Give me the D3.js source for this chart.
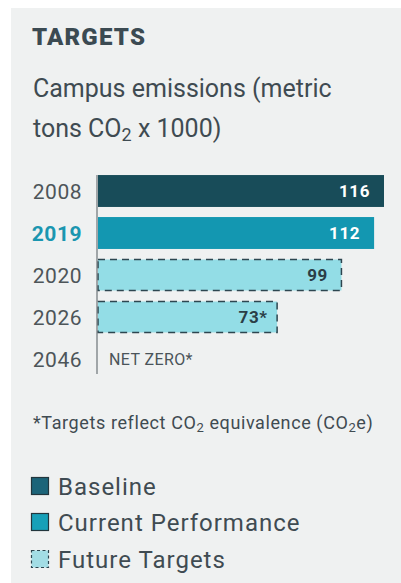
<!DOCTYPE html>
<html>
<head>
<meta charset="utf-8">
<script src="https://cdn.jsdelivr.net/npm/d3@7"></script>
<style>
  html, body { margin: 0; padding: 0; background: #ffffff; }
  svg { display: block; font-family: Roboto, "Noto Sans", sans-serif; }
</style>
</head>
<body>
<svg id="chart" width="401" height="583"></svg>
<script>
// Campus emissions by year (metric tons CO2 x 1000)
const years = ["2008", "2019", "2020", "2026", "2046"];
const values = [116, 112, 99, 73, 0];
const valueLabels = ["116", "112", "99", "73*", "NET ZERO*"];
const kinds = ["baseline", "current", "future", "future", "none"];

const legendLabels = ["Baseline", "Current Performance", "Future Targets"];
const legendKinds = ["baseline", "current", "future"];

const fills = { baseline: "#184c59", current: "#1397b1", future: "#93dde6" };
const legendFills = { baseline: "#1c6479", current: "#17a0b8", future: "#a2dde5" };
const ink = "#3f4b52";
const strokeDark = "#2d4650";

const svg = d3.select("#chart");

// panel background
svg.append("rect")
  .attr("x", 11).attr("y", 8)
  .attr("width", 390).attr("height", 575)
  .attr("fill", "#eff1f1");

// title block
svg.append("text")
  .attr("x", 32).attr("y", 45)
  .attr("font-size", 24).attr("font-weight", 900)
  .attr("letter-spacing", 1.2)
  .attr("fill", "#3b4a52")
  .text("TARGETS");

svg.append("text")
  .attr("x", 33).attr("y", 97)
  .attr("font-size", 25).attr("fill", ink)
  .text("Campus emissions (metric");

const sub2 = svg.append("text")
  .attr("x", 33).attr("y", 137)
  .attr("font-size", 25).attr("fill", ink);
sub2.append("tspan").text("tons CO");
sub2.append("tspan").attr("font-size", 18).attr("dy", 4).text("2");
sub2.append("tspan").attr("dy", -4).text(" x 1000)");

// scales
const x = d3.scaleLinear().domain([0, 116]).range([97, 384]);
const y = d3.scaleBand().domain(years).range([170, 380]).paddingInner(0.24).paddingOuter(0.12);

// year labels
svg.append("g").selectAll("text")
  .data(years)
  .join("text")
  .attr("x", 82)
  .attr("y", d => y(d) + y.bandwidth() / 2)
  .attr("dy", "0.36em")
  .attr("text-anchor", "end")
  .attr("font-size", 21)
  .attr("letter-spacing", 0.5)
  .attr("font-weight", d => d === "2019" ? 700 : 400)
  .attr("fill", d => d === "2019" ? "#1a96b0" : "#4d5559")
  .text(d => d);

// bars
const rows = years.map((yr, i) => ({ yr, v: values[i], label: valueLabels[i], kind: kinds[i] }));

svg.append("g").selectAll("rect")
  .data(rows.filter(d => d.kind !== "none"))
  .join("rect")
  .attr("x", d => x(0) + 1)
  .attr("y", d => y(d.yr) + (d.kind === "future" ? 0.5 : 0))
  .attr("width", d => x(d.v) - x(0) - 1 - (d.kind === "future" ? 0.5 : 0))
  .attr("height", d => y.bandwidth() - (d.kind === "future" ? 1 : 0))
  .attr("fill", d => fills[d.kind])
  .attr("stroke", d => d.kind === "future" ? strokeDark : "none")
  .attr("stroke-width", 1.5)
  .attr("stroke-dasharray", d => d.kind === "future" ? "7,5" : null);

// value labels
svg.append("g").selectAll("text")
  .data(rows)
  .join("text")
  .attr("x", d => d.kind === "none" ? x(0) + 12 : x(d.v) - (d.label.endsWith("*") ? 10 : 14))
  .attr("y", d => y(d.yr) + y.bandwidth() / 2)
  .attr("dy", "0.36em")
  .attr("text-anchor", d => d.kind === "none" ? "start" : "end")
  .attr("font-size", d => d.kind === "none" ? 16 : 17)
  .attr("letter-spacing", d => d.kind === "none" ? 0.4 : 0.6)
  .attr("font-weight", d => d.kind === "none" ? 400 : 700)
  .attr("fill", d => d.kind === "baseline" || d.kind === "current" ? "#ffffff" : (d.kind === "none" ? "#4a5459" : "#2b3e47"))
  .text(d => d.label);

// vertical axis line
svg.append("line")
  .attr("x1", x(0)).attr("x2", x(0))
  .attr("y1", 175).attr("y2", 374)
  .attr("stroke", "#6b7478").attr("stroke-width", 1.2);

// footnote
const foot = svg.append("text")
  .attr("x", 33).attr("y", 429)
  .attr("font-size", 18).attr("letter-spacing", 0.6).attr("fill", ink);
foot.append("tspan").text("*Targets reflect CO");
foot.append("tspan").attr("font-size", 13).attr("dy", 3).text("2");
foot.append("tspan").attr("dy", -3).text(" equivalence (CO");
foot.append("tspan").attr("font-size", 13).attr("dy", 3).text("2");
foot.append("tspan").attr("dy", -3).text("e)");

// legend
const legendY = [495, 531, 568];
const lg = svg.append("g").selectAll("g")
  .data(legendLabels.map((t, i) => ({ t, k: legendKinds[i], yb: legendY[i] })))
  .join("g");

lg.append("rect")
  .attr("x", 31.5)
  .attr("y", d => d.yb - 17.5)
  .attr("width", 17).attr("height", 17)
  .attr("fill", d => legendFills[d.k])
  .attr("stroke", d => d.k === "future" ? strokeDark : "#22363d")
  .attr("stroke-width", 1.2)
  .attr("stroke-dasharray", d => d.k === "future" ? "3,2.5" : null);

lg.append("text")
  .attr("x", 58)
  .attr("y", d => d.yb)
  .attr("font-size", 24)
  .attr("letter-spacing", 1.0)
  .attr("fill", ink)
  .text(d => d.t);
</script>
</body>
</html>
